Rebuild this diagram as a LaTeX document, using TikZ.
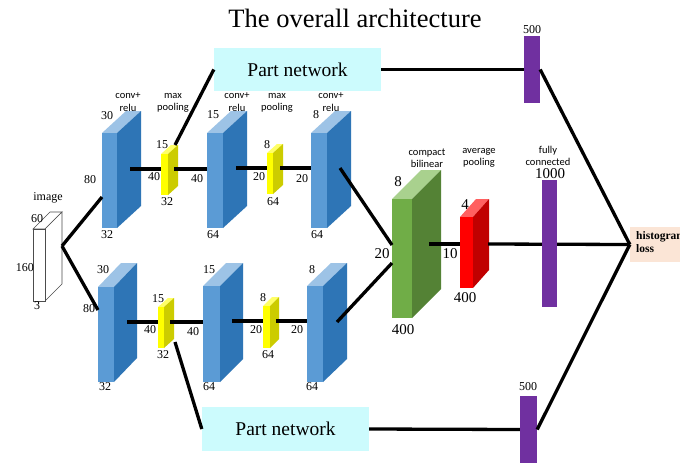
\documentclass[tikz,border=0pt]{standalone}
\usepackage{fontspec}
\setmainfont{Liberation Serif}
\newfontfamily\labfont{Carlito}
\definecolor{bfront}{HTML}{5B9BD5}
\definecolor{bside}{HTML}{2E75B6}
\definecolor{btop}{HTML}{9DC3E6}
\definecolor{yfront}{HTML}{FFFF00}
\definecolor{yside}{HTML}{CCCC00}
\definecolor{ytop}{HTML}{FFFF66}
\definecolor{gfront}{HTML}{70AD47}
\definecolor{gside}{HTML}{548235}
\definecolor{gtop}{HTML}{A9D18E}
\definecolor{rfront}{HTML}{FF0000}
\definecolor{rside}{HTML}{C00000}
\definecolor{rtop}{HTML}{FF6060}
\definecolor{purp}{HTML}{7030A0}
\definecolor{cyanbox}{HTML}{CCFBFD}
\definecolor{peach}{HTML}{FBE5D6}
\newcommand{\cub}[9]{%
  \fill[#9] (#1,#2) -- ++(#5,-#6) -- ++(#3,0) -- ++(-#5,#6) -- cycle;
  \fill[#8] ({#1+#3},#2) -- ++(#5,-#6) -- ++(0,#4) -- ++(-#5,#6) -- cycle;
  \fill[#7] (#1,#2) rectangle ++(#3,#4);
}
\tikzset{
  conn/.style={line width=3.3pt, black},
  num/.style={font=\fontsize{12}{12}\selectfont, inner sep=0pt},
  bignum/.style={font=\fontsize{15}{15}\selectfont, inner sep=0pt},
  lab/.style={font=\labfont\fontsize{10.5}{12.5}\selectfont, align=center, inner sep=0pt},
  partbox/.style={fill=cyanbox, minimum width=167pt, inner sep=0pt, font=\fontsize{19.5}{19.5}\selectfont},
  purpbar/.style={fill=purp, inner sep=0pt, minimum width=16pt},
}
\begin{document}
\begin{tikzpicture}[x=1pt,y=-1pt]
\fill[white] (0,0) rectangle (680,464);
\useasboundingbox (0,0) rectangle (680,464);

\node[font=\fontsize{26.5}{26.5}\selectfont, inner sep=0pt] (title) at (355,18) {The overall architecture};

% image block
\filldraw[fill=white, draw=black!70, line width=0.6pt] (33,229) -- ++(17,-17) -- ++(12,0) -- ++(-17,17) -- cycle;
\filldraw[fill=white, draw=black!70, line width=0.6pt] (45,229) -- ++(17,-17) -- ++(0,72) -- ++(-17,17) -- cycle;
\filldraw[fill=white, draw=black!70, line width=0.6pt] (33,229) rectangle ++(12,72);
\node[num] (limg) at (48,198) {image};
\node[num] (l60) at (37,219) {60};
\node[num] (l160) at (25,268) {160};
\node[num] (l3) at (37,306) {3};

% top branch
\cub{102}{133}{15}{95}{24}{22}{bfront}{bside}{btop}
\cub{161}{154}{7}{41}{10}{9}{yfront}{yside}{ytop}
\cub{207}{133}{16}{95}{24}{22}{bfront}{bside}{btop}
\cub{267}{153}{6}{41}{10}{9}{yfront}{yside}{ytop}
\cub{311}{133}{16}{95}{24}{22}{bfront}{bside}{btop}
% bottom branch
\cub{98}{287}{16}{95}{23}{24}{bfront}{bside}{btop}
\cub{158}{307}{6}{41}{10}{9}{yfront}{yside}{ytop}
\cub{203}{286}{17}{96}{23}{23}{bfront}{bside}{btop}
\cub{263}{306}{7}{42}{9}{9}{yfront}{yside}{ytop}
\cub{307}{286}{16}{96}{24}{23}{bfront}{bside}{btop}
% compact bilinear and average pooling
\cub{392}{199}{20}{119}{29}{29}{gfront}{gside}{gtop}
\cub{460}{217}{13}{71}{16}{18}{rfront}{rside}{rtop}

% connector points
\coordinate (imgR) at (62,246);
\coordinate (c1tIn) at (102,197);
\coordinate (c1bIn) at (98,310);
\coordinate (c1tS) at (130,169);
\coordinate (p1tF) at (161,169);
\coordinate (p1tS) at (174,169);
\coordinate (c2tF) at (207,169);
\coordinate (c2tS) at (236,168);
\coordinate (p2tF) at (267,168);
\coordinate (p2tS) at (280,168);
\coordinate (c3tF) at (311,168);
\coordinate (c3tS) at (340,168);
\coordinate (gA) at (392,245);
\coordinate (gB) at (392,263);
\coordinate (c3bS) at (337,322);
\coordinate (c1bS) at (127,322);
\coordinate (p1bF) at (158,322);
\coordinate (p1bS) at (170,322);
\coordinate (c2bF) at (203,322);
\coordinate (c2bS) at (232,321);
\coordinate (p2bF) at (263,321);
\coordinate (p2bS) at (276,321);
\coordinate (c3bF) at (307,321);
\coordinate (gS) at (429,244);
\coordinate (rF) at (460,244);
\coordinate (rS) at (488,244);
\coordinate (p1tTop) at (175,145);
\coordinate (p1bBot) at (175,342);

% part networks, bars, histogram
\node[partbox, minimum height=43pt] (pnt) at (297.5,69.5) {Part network};
\node[partbox, minimum height=44pt] (pnb) at (285.5,429) {Part network};
\node[fill=peach, inner sep=0pt, minimum width=60pt, minimum height=35pt] (hist) at (660,244.5) {};
\node[anchor=north west, inner sep=0pt, align=left, font=\bfseries\fontsize{11.5}{13.5}\selectfont] (histtxt) at (636,231) {histogram\\loss};

% connectors
\draw[conn] (imgR) -- (c1tIn);
\draw[conn] (imgR) -- (c1bIn);
\draw[conn] (c1tS) -- (p1tF);
\draw[conn] (p1tS) -- (c2tF);
\draw[conn] (c2tS) -- (p2tF);
\draw[conn] (p2tS) -- (c3tF);
\draw[conn] (c3tS) -- (gA);
\draw[conn] (c3bS) -- (gB);
\draw[conn] (c1bS) -- (p1bF);
\draw[conn] (p1bS) -- (c2bF);
\draw[conn] (c2bS) -- (p2bF);
\draw[conn] (p2bS) -- (c3bF);
\draw[conn] (gS) -- (rF);
\draw[conn] (rS) -- (hist.west);
\draw[conn] (p1tTop) -- (pnt.west);
\draw[conn] (p1bBot) -- (pnb.west);

\node[purpbar, minimum height=67pt] (ptbar) at (532,69.5) {};
\node[purpbar, minimum height=67pt, minimum width=17pt] (pbbar) at (528.5,429.5) {};
\node[purpbar, minimum height=127pt, minimum width=15pt] (fcbar) at (549.5,243.5) {};

\draw[conn] (pnt.east) -- (ptbar.west);
\draw[conn] (ptbar.east) -- (hist.west);
\draw[conn] (pnb.east) -- (pbbar.west);
\draw[conn] (pbbar.east) -- (hist.west);

% labels top branch
\node[lab] (lc1t) at (128,102) {conv+\\relu};
\node[lab] (lp1t) at (173,103) {max\\pooling};
\node[lab] (lc2t) at (237,102) {conv+\\relu};
\node[lab] (lp2t) at (277,103) {max\\pooling};
\node[lab] (lc3t) at (331,102) {conv+\\relu};
\node[num] (n1) at (107,116) {30};
\node[num] (n2) at (90,180) {80};
\node[num] (n3) at (107,235) {32};
\node[num] (n4) at (162,145) {15};
\node[num] (n5) at (154,177) {40};
\node[num] (n6) at (167,202) {32};
\node[num] (n7) at (197,179) {40};
\node[num] (n8) at (213,115) {15};
\node[num] (n9) at (213,235) {64};
\node[num] (n10) at (267,145) {8};
\node[num] (n11) at (259,177) {20};
\node[num] (n12) at (273,202) {64};
\node[num] (n13) at (302,179) {20};
\node[num] (n14) at (316,115) {8};
\node[num] (n15) at (317,235) {64};
% labels bottom branch
\node[num] (m1) at (103,270) {30};
\node[num] (m2) at (89,309) {80};
\node[num] (m3) at (105,387) {32};
\node[num] (m4) at (158,299) {15};
\node[num] (m5) at (150,330) {40};
\node[num] (m6) at (163,355) {32};
\node[num] (m7) at (193,332) {40};
\node[num] (m8) at (209,270) {15};
\node[num] (m9) at (209,387) {64};
\node[num] (m10) at (263,298) {8};
\node[num] (m11) at (256,330) {20};
\node[num] (m12) at (268,355) {64};
\node[num] (m13) at (297,330) {20};
\node[num] (m14) at (312,270) {8};
\node[num] (m15) at (312,387) {64};
% right part labels
\node[lab] (lcb) at (427,158) {compact\\bilinear};
\node[lab] (lap) at (479,158) {average\\pooling};
\node[lab] (lfc) at (548,156) {fully\\connected};
\node[bignum] (g8) at (398,182) {8};
\node[bignum] (g20) at (382,254) {20};
\node[bignum] (g400) at (403,330) {400};
\node[bignum] (r4) at (465,205) {4};
\node[bignum] (r10) at (450,254) {10};
\node[bignum] (r400) at (465,298) {400};
\node[bignum] (f1000) at (550,174) {1000};
\node[num] (t500) at (532,30) {500};
\node[num] (b500) at (528,387) {500};
\end{tikzpicture}
\end{document}
